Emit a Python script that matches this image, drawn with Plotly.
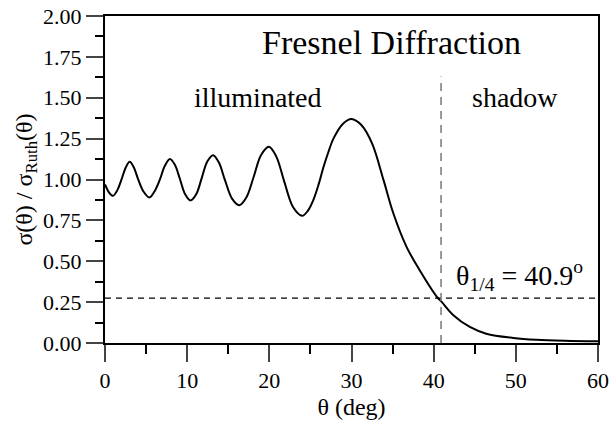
import plotly.graph_objects as go

# Data
theta_deg = [0.0, 0.5, 0.97, 1.5, 1.98, 2.5, 3.0, 3.5, 4.0, 4.7, 5.4, 6.0, 6.65, 7.3, 7.9,
             8.5, 9.1, 9.75, 10.4, 11.1, 11.75, 12.45, 13.15, 13.85, 14.6, 15.5, 16.35,
             17.2, 18.1, 19.0, 19.95, 20.85, 21.8, 22.9, 24.0, 24.7, 25.35, 26.0, 26.6,
             27.2, 27.8, 29.0, 30.0, 31.2, 32.5, 33.9, 35.1, 36.7, 38.3, 40.4, 41.0,
             42.4, 44.4, 46.4, 49.7, 52.5, 56.0, 60.0]
ratio = [0.97, 0.92, 0.900, 0.935, 0.996, 1.07, 1.108, 1.075, 1.006, 0.925, 0.89, 0.925,
         0.996, 1.085, 1.125, 1.09, 1.006, 0.91, 0.872, 0.91, 1.005, 1.11, 1.149, 1.105,
         0.996, 0.88, 0.843, 0.89, 1.017, 1.15, 1.20, 1.14, 0.99, 0.83, 0.778, 0.81,
         0.874, 0.97, 1.078, 1.17, 1.25, 1.343, 1.37, 1.333, 1.221, 0.996, 0.792, 0.588,
         0.445, 0.282, 0.25, 0.17, 0.098, 0.057, 0.031, 0.02, 0.014, 0.011]

theta_quarter = 40.9
quarter_level = 0.275
vline_top = 1.63

x_ticks = [0, 10, 20, 30, 40, 50, 60]
y_ticks = [0.0, 0.25, 0.5, 0.75, 1.0, 1.25, 1.5, 1.75, 2.0]

FONT = "Times New Roman, Liberation Serif, DejaVu Serif, serif"

fig = go.Figure()
fig.add_trace(go.Scatter(x=theta_deg, y=ratio, mode="lines",
                         line=dict(color="black", width=2, shape="spline", smoothing=1.0),
                         showlegend=False, hoverinfo="skip"))
# quarter-point guides
fig.add_trace(go.Scatter(x=[0, 60], y=[quarter_level, quarter_level], mode="lines",
                         line=dict(color="black", width=1.3, dash="6px,5px"),
                         showlegend=False, hoverinfo="skip"))
fig.add_trace(go.Scatter(x=[theta_quarter, theta_quarter], y=[0, vline_top], mode="lines",
                         line=dict(color="#777777", width=1.5, dash="8px,6px"),
                         showlegend=False, hoverinfo="skip"))

fig.update_layout(
    width=610, height=428,
    margin=dict(l=105, r=12, t=16, b=85),
    paper_bgcolor="white", plot_bgcolor="white",
    font=dict(family=FONT, color="black", size=22),
    xaxis=dict(range=[0, 60], tickvals=x_ticks, ticks="outside", ticklen=17, tickwidth=2,
               showline=True, linewidth=2, linecolor="black", mirror=True, automargin=False,
               showgrid=False, zeroline=False, tickfont=dict(size=22, family=FONT),
               minor=dict(dtick=5, ticks="outside", ticklen=9, tickwidth=2, tickcolor="black"),
               title=dict(text="θ (deg)", font=dict(size=24, family=FONT), standoff=6)),
    yaxis=dict(range=[0, 2], tickvals=y_ticks, tickformat=".2f", ticks="outside", ticklen=17,
               tickwidth=2, showline=True, linewidth=2, linecolor="black", mirror=True,
               automargin=False,
               showgrid=False, zeroline=False, tickfont=dict(size=22, family=FONT),
               minor=dict(dtick=0.125, ticks="outside", ticklen=8, tickwidth=2, tickcolor="black"),
               title=dict(text="σ(θ) / σ<sub>Ruth</sub>(θ)", font=dict(size=24, family=FONT),
                          standoff=4)),
    annotations=[
        dict(x=34.9, y=1.835, xref="x", yref="y", text="Fresnel Diffraction", showarrow=False,
             font=dict(size=34, family=FONT)),
        dict(x=18.6, y=1.50, xref="x", yref="y", text="illuminated", showarrow=False,
             font=dict(size=28, family=FONT)),
        dict(x=49.9, y=1.50, xref="x", yref="y", text="shadow", showarrow=False,
             font=dict(size=28, family=FONT)),
        dict(x=50.4, y=0.41, xref="x", yref="y",
             text="θ<sub>1/4</sub> = 40.9<sup>o</sup>", showarrow=False,
             font=dict(size=28, family=FONT)),
    ],
)

fig.write_html("out.html")
